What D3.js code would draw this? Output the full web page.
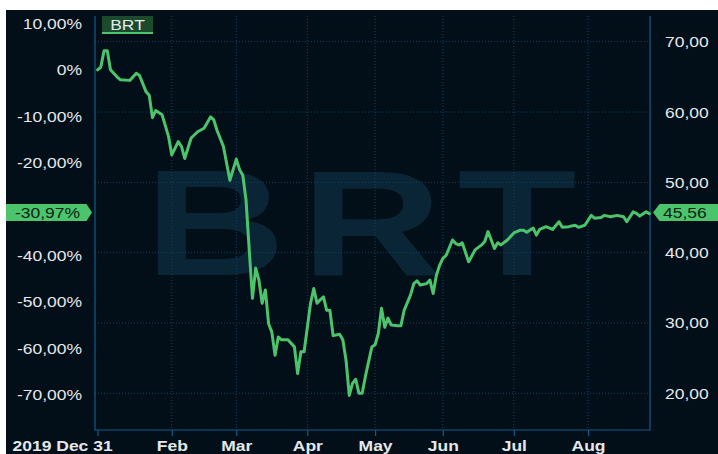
<!DOCTYPE html>
<html><head><meta charset="utf-8">
<script src="https://cdn.jsdelivr.net/npm/d3@7"></script>
<style>
body{margin:0;background:#fff}
svg{display:block}
text{font-family:"Liberation Sans",Arial,sans-serif}
</style></head>
<body><svg id="c" width="718" height="454"></svg>
<script>
// ---- data ----
const seriesName = "BRT";
const days = [0,1,2,3,4,5,6,7,10,12,13,15,16,17,18,20,22,23,25,26,27,29,31,33,35,36,37,39,41,43,44,45,46,47,48,49,50,51,52,53,54,55,56,57,59,61,62,63,64,66,67,68,69,70,71,72,73,75,76,77,78,79,80,81,82,83,85,86,87,88,89,90,91,93,94,95,97,98,99,100,102,103,104,105,106,107,108,110,111,112,113,115,117,119,120,121,123,124,125,127,129,131,132,133,135,136,137,139,141,143,144,146,148,149,151,153,154,156,157,159,161,163,164,166,167,168,170,171];
const prices = [66.0,66.4,68.7,68.7,66.0,65.5,65.0,64.6,64.5,65.5,65.2,62.9,62.4,59.2,60.2,59.6,56.5,53.9,55.8,55.1,53.4,56.3,57.2,57.7,59.3,58.9,57.4,55.1,50.3,53.3,51.8,51.0,47.5,40.4,33.5,37.8,36.1,32.8,34.7,29.9,28.7,25.4,28.0,27.6,27.6,26.6,22.8,25.9,25.9,32.8,34.9,32.8,33.3,33.7,31.8,31.8,28.2,28.4,27.6,24.7,19.7,21.4,22.0,20.0,20.0,22.4,26.6,26.9,28.5,32.1,29.4,30.7,29.7,29.6,29.6,31.8,34.0,35.6,36.0,35.4,35.6,36.1,34.2,36.8,38.2,39.2,39.6,41.8,41.3,41.1,41.4,38.7,40.4,41.1,41.6,43.0,40.6,41.4,41.1,41.8,42.8,43.2,43.2,42.9,43.5,42.5,43.3,43.7,43.3,44.4,43.6,43.7,43.9,43.6,43.9,45.3,44.9,45.0,45.3,45.1,45.3,45.1,44.4,45.8,45.6,45.2,45.8,45.56];
const basePrice = 66.00;
const lastPrice = 45.56;
const lastPctLabel = "-30,97%";
const lastPriceLabel = "45,56";
const monthTickDays = [0,23,43,65,86,107,129,152];
const monthTickLabels = ["2019 Dec 31","Feb","Mar","Apr","May","Jun","Jul","Aug"];
const priceTicks = [20,30,40,50,60,70];
const pctTicks = [0.1,0,-0.1,-0.2,-0.4,-0.5,-0.6,-0.7];

// ---- styles ----
const BG = "#020f18", AXIS = "#115d8c", GRID = "#0d4262", GREEN = "#4cc46c", TXT = "#e4e8ec";
const SX = 1.25;
const L = 95, R = 650, T = 16, B = 430;

const svg = d3.select("#c");
svg.append("rect").attr("x",6).attr("y",10).attr("width",712).attr("height",444).attr("fill",BG);

const x = d3.scaleLinear().domain([-0.8,171.2]).range([L,R]);
const y = d3.scaleLinear().domain([20,70]).range([393.3,41.7]);
const yPct = d3.scaleLinear().domain([20/basePrice-1, 70/basePrice-1]).range(y.range());

// watermark
svg.append("g").attr("transform",`translate(${(L+R)/2-4},275) scale(1.3,1)`)
  .append("text").attr("text-anchor","middle").attr("font-weight","bold")
  .attr("font-size",150).attr("letter-spacing",12).attr("fill","#0a2535").text(seriesName);

// grid
const grid = svg.append("g");
grid.selectAll("line.h").data(priceTicks).join("line")
  .attr("x1",L).attr("x2",R-2).attr("y1",d=>y(d)).attr("y2",d=>y(d))
  .attr("stroke",GRID).attr("stroke-dasharray","1,2");
grid.selectAll("line.v").data(monthTickDays.slice(1)).join("line")
  .attr("y1",T).attr("y2",B).attr("x1",d=>x(d)).attr("x2",d=>x(d))
  .attr("stroke",GRID).attr("stroke-dasharray","1,2");

// axis frame
svg.append("path").attr("d",`M${L},${T}V${B}H${R}V${T}`).attr("fill","none").attr("stroke",AXIS).attr("stroke-width",1.2);

// x axis
const xa = svg.append("g").attr("transform",`translate(0,${B})`)
  .call(d3.axisBottom(x).tickValues(monthTickDays).tickFormat((d,i)=>monthTickLabels[i]).tickSize(6));
xa.select(".domain").remove();
xa.selectAll("line").attr("stroke",AXIS).attr("stroke-width",1.2);
xa.selectAll("text").attr("dy",null).attr("y",21.5).attr("fill",TXT)
  .attr("font-size",14).attr("font-weight","bold")
  .attr("transform",`scale(${SX},1)`)
  .attr("text-anchor",(d,i)=>i?"middle":"start")
  .attr("x",(d,i)=>i?0:(12-x(d))/SX);

// right axis (price)
const ra = svg.append("g").attr("transform",`translate(${R},0)`)
  .call(d3.axisRight(y).tickValues(priceTicks).tickFormat(d=>d.toFixed(2).replace(".",",")).tickSize(0));
ra.select(".domain").remove();
ra.selectAll("text").attr("dy",null).attr("y",5).attr("x",15/SX).attr("fill",TXT)
  .attr("font-size",14).attr("transform",`scale(${SX},1)`);

// left axis (percent)
const la = svg.append("g").attr("transform",`translate(${L},0)`)
  .call(d3.axisLeft(yPct).tickValues(pctTicks)
    .tickFormat(d=>Math.abs(d)<1e-9?"0%":(d*100).toFixed(2).replace(".",",")+"%").tickSize(0));
la.select(".domain").remove();
la.selectAll("text").attr("dy",null).attr("y",5).attr("x",-13/SX).attr("fill",TXT)
  .attr("font-size",14).attr("transform",`scale(${SX},1)`);

// line
svg.append("path").datum(days.map((d,i)=>[d,prices[i]]))
  .attr("fill","none").attr("stroke",GREEN).attr("stroke-width",3)
  .attr("stroke-linejoin","round").attr("stroke-linecap","round")
  .attr("d",d3.line().x(d=>x(d[0])).y(d=>y(d[1])));

// legend
svg.append("rect").attr("x",102).attr("y",16).attr("width",51).attr("height",17).attr("fill","#1c4a2d");
svg.append("rect").attr("x",102).attr("y",32).attr("width",51).attr("height",2).attr("fill",GREEN);
svg.append("g").attr("transform",`translate(127.5,30) scale(${SX},1)`)
  .append("text").attr("text-anchor","middle").attr("font-size",14).attr("fill",TXT).text(seriesName);

// badges
const cy = y(lastPrice)-1;
svg.append("path").attr("d",`M6,${cy-8.5}H86.5L92,${cy}L86.5,${cy+8.5}H6Z`).attr("fill",GREEN);
svg.append("g").attr("transform",`translate(80,${cy+5}) scale(${SX},1)`)
  .append("text").attr("text-anchor","end").attr("font-size",14).attr("fill","#0b2416").text(lastPctLabel);
svg.append("path").attr("d",`M718,${cy-8.5}H659.5L653,${cy}L659.5,${cy+8.5}H718Z`).attr("fill",GREEN);
svg.append("g").attr("transform",`translate(663,${cy+5}) scale(${SX},1)`)
  .append("text").attr("font-size",14).attr("fill","#0b2416").text(lastPriceLabel);
</script></body></html>
